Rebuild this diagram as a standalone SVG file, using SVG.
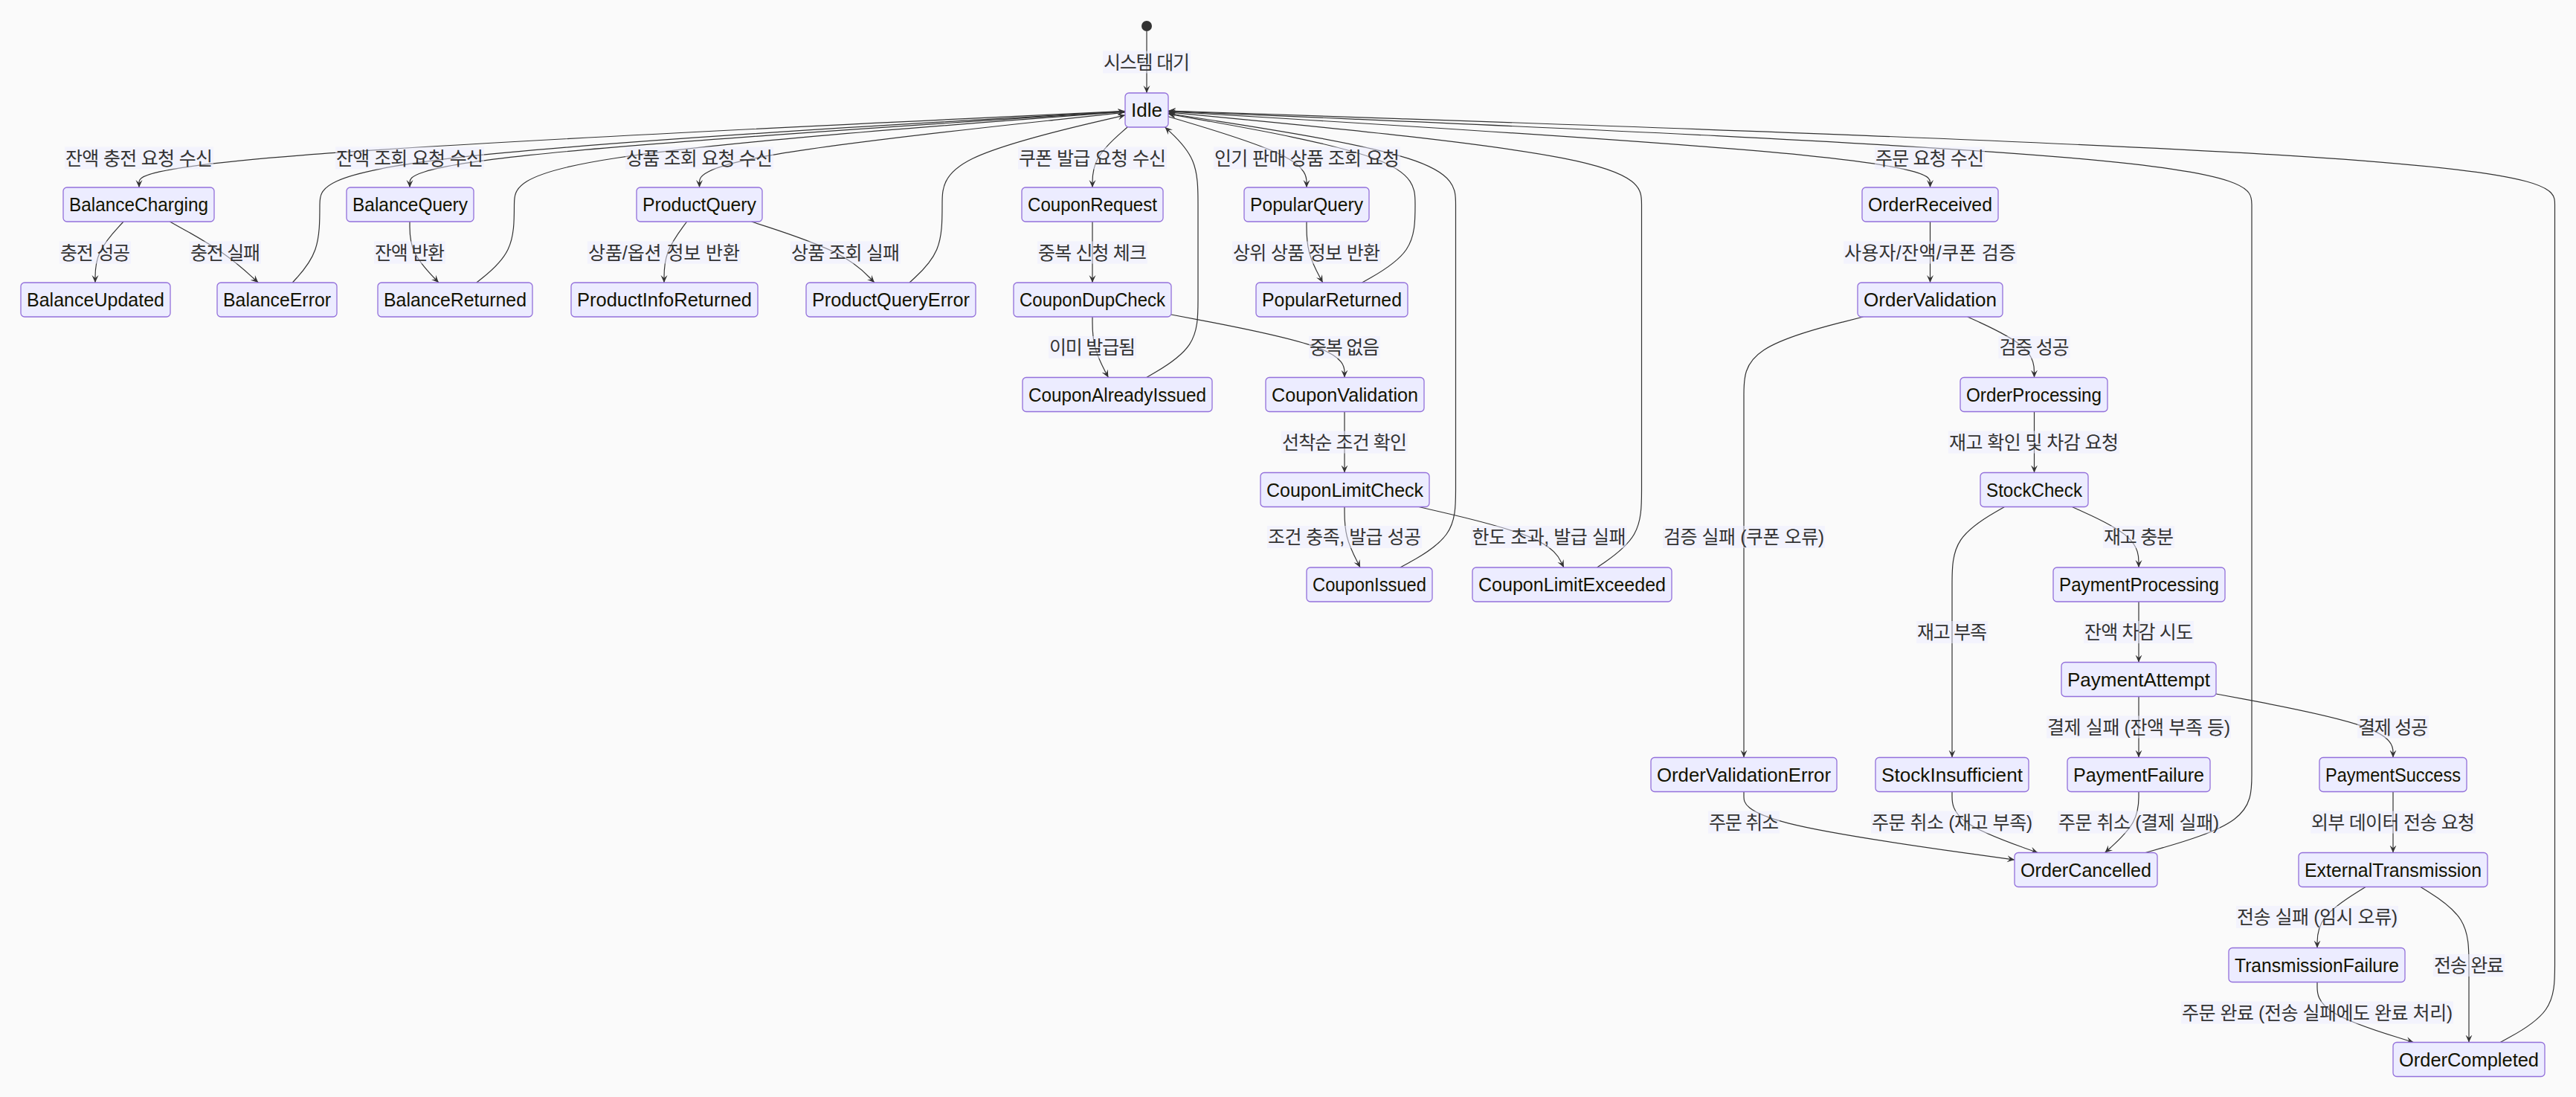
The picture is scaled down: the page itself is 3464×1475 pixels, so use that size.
<svg xmlns="http://www.w3.org/2000/svg" width="3464" height="1475" viewBox="0 0 3464 1475">
<style>
text{font-family:"Liberation Sans","Noto Sans CJK KR",sans-serif;font-size:25px;text-anchor:middle;dominant-baseline:central}
.node rect{fill:#ECECFF;stroke:#9370DB;stroke-width:1.3}
.node text{fill:#131300}
#edges path{fill:none;stroke:#333;stroke-width:1.2;marker-end:url(#barb)}
.lbl rect{fill:#ECECFF;opacity:0.5}
.lbl text{fill:#333}
</style>
<defs>
<marker id="barb" viewBox="0 0 10 10" refX="10" refY="5" markerWidth="10" markerHeight="10" markerUnits="userSpaceOnUse" orient="auto">
<path d="M10,5 L0,9.5 L4,5 L0,0.5 Z" fill="#333"/>
</marker>
</defs>
<rect width="3464" height="1475" fill="#FAFAFA"/>
<g id="edges">
<path d="M1542,42 L1542,125"/>
<path d="M1513,149.4 L1292,159.9 C1071,170.4 629,191.5 408,208.6 C187,225.7 187,238.8 187,245.4 L187,252"/>
<path d="M1513,149.9 L1352.7,160.3 C1192.3,170.8 871.7,191.6 711.3,208.7 C551,225.7 551,238.8 551,245.4 L551,252"/>
<path d="M1513,151.1 L1417.6,161.3 C1322.2,171.6 1131.3,192 1035.9,208.9 C940.5,225.7 940.5,238.8 940.5,245.4 L940.5,252"/>
<path d="M1516,171 L1508.2,177.9 C1500.3,184.8 1484.7,198.7 1476.8,212.2 C1469,225.7 1469,238.8 1469,245.4 L1469,252"/>
<path d="M1571,156.7 L1602,166 C1633,175.3 1695,193.9 1726,209.8 C1757,225.7 1757,238.8 1757,245.4 L1757,252"/>
<path d="M1571,149.8 L1741.75,160.25 C1912.5,170.7 2254,191.6 2424.75,208.6 C2595.5,225.7 2595.5,238.8 2595.5,245.4 L2595.5,252"/>
<path d="M166,298 L159.7,304.9 C153.3,311.8 140.7,325.7 134.3,339.3 C128,353 128,366.5 128,373.2 L128,380"/>
<path d="M228.4,298 L240.8,304.9 C253.3,311.8 278.1,325.7 298,339.3 C317.8,353 332.5,366.5 339.9,373.25 L347.3,380"/>
<path d="M551,298 L551,304.9 C551,311.8 551,325.7 557.5,339.3 C564,353 577,366.5 583.4,373.25 L589.9,380"/>
<path d="M923.6,298 L918.5,304.9 C913.4,311.8 903.2,325.7 898.1,339.3 C893,353 893,366.5 893,373.25 L893,380"/>
<path d="M1010.5,298 L1031.6,304.9 C1052.7,311.8 1094.8,325.7 1122.4,339.3 C1150,353 1163,366.5 1169.4,373.25 L1175.9,380"/>
<path d="M1469,298 L1469,380"/>
<path d="M1757,298 L1757,304.9 C1757,311.8 1757,325.7 1760.6,339.3 C1764.2,353 1771.5,366.5 1775.1,373.25 L1778.7,380"/>
<path d="M2595.5,298 L2595.5,380"/>
<path d="M1469,426 L1469,432.8 C1469,439.7 1469,453.3 1472.6,466.9 C1476.1,480.5 1483.3,494 1486.8,500.75 L1490.4,507.5"/>
<path d="M1575,423 L1613.8,430.3 C1652.7,437.7 1730.3,452.3 1769.2,466.4 C1808,480.5 1808,494 1808,500.75 L1808,507.5"/>
<path d="M2645.8,426 L2660.75,432.8 C2675.7,439.7 2705.6,453.3 2720.5,466.9 C2735.5,480.5 2735.5,494 2735.5,500.75 L2735.5,507.5"/>
<path d="M2505.5,426 L2478.75,432.8 C2452,439.7 2398.5,453.3 2371.75,470.75 C2345,488.2 2345,509.3 2345,530.5 L2345,1018.5"/>
<path d="M1808,553.5 L1808,635.5"/>
<path d="M2735.5,553.5 L2735.5,635.5"/>
<path d="M1541.8,507.5 L1553.3,500.75 C1564.9,494 1587.9,480.5 1599.5,463.1 C1611,445.7 1611,424.3 1611,403 L1611,275.3 C1611,254.2 1611,233.3 1603.6,216 C1596.2,198.7 1581.4,184.8 1574,177.9 L1566.6,171"/>
<path d="M393.3,380 L399.4,373.25 C405.5,366.5 417.8,353 423.9,335.5 C430,318 430,296.5 430,275.3 C430,254.2 430,233.3 610.5,212.45 C791,191.6 1152,170.6 1332.5,160.2 L1513,149.7"/>
<path d="M640.8,380 L649.25,373.25 C657.7,366.5 674.6,353 683,335.5 C691.5,318 691.5,296.5 691.5,275.3 C691.5,254.2 691.5,233.3 828.4,212.5 C965.3,191.7 1239.2,171 1376.1,160.6 L1513,150.2"/>
<path d="M1223,380 L1230.3,373.25 C1237.7,366.5 1252.3,353 1259.7,335.5 C1267,318 1267,296.5 1267,275.3 C1267,254.2 1267,233.3 1307.8,213.3 C1349,193.3 1431,174 1472,164.4 L1513,154.8"/>
<path d="M1831.6,380 L1843.5,373.25 C1855.4,366.5 1879.2,353 1891.1,335.5 C1903,318 1903,296.5 1903,275.3 C1903,254.2 1903,233.3 1847.7,213 C1792.3,192.7 1681.7,173 1626.3,163.1 L1571,153.2"/>
<path d="M1882.9,763 L1895.3,756.2 C1907.8,749.3 1932.6,735.7 1945.1,718.25 C1957.5,700.8 1957.5,679.7 1957.5,658.6 L1957.5,275.3 C1957.5,254.2 1957.5,233.3 1893.1,212.9 C1828.7,192.5 1699.8,172.5 1635.4,162.5 L1571,152.5"/>
<path d="M2147.6,763 L2157.6,756.2 C2167.6,749.3 2187.5,735.7 2197.5,718.25 C2207.5,700.8 2207.5,679.7 2207.5,658.6 L2207.5,275.3 C2207.5,254.2 2207.5,233.3 2101.4,212.6 C1995.3,191.9 1783.2,171.4 1677.1,161.1 L1571,150.8"/>
<path d="M1808,681.5 L1808,688.25 C1808,695 1808,708.5 1811.5,722.1 C1815,735.7 1822.1,749.3 1825.6,756.2 L1829.1,763"/>
<path d="M1907.9,681.5 L1937.1,688.25 C1966.3,695 2024.6,708.5 2057.1,722.1 C2089.6,735.7 2096.3,749.3 2099.6,756.2 L2102.9,763"/>
<path d="M2786.4,681.5 L2801.3,688.25 C2816.3,695 2846.1,708.5 2861.1,722.1 C2876,735.7 2876,749.3 2876,756.2 L2876,763"/>
<path d="M2695.5,681.5 L2683.75,688.25 C2672,695 2648.5,708.5 2636.75,725.9 C2625,743.3 2625,764.7 2625,786 L2625,1018.5"/>
<path d="M2876,809 L2876,890.5"/>
<path d="M2876,936.5 L2876,1018.5"/>
<path d="M2980,933 L3019.7,940.4 C3059.3,947.8 3138.7,962.7 3178.3,976.9 C3218,991.2 3218,1004.8 3218,1011.7 L3218,1018.5"/>
<path d="M2345,1064.5 L2345,1071.3 C2345,1078.2 2345,1091.8 2405.7,1107.1 C2466.3,1122.4 2587.7,1139.2 2648.3,1147.7 L2709,1156.1"/>
<path d="M2625,1064.5 L2625,1071.3 C2625,1078.2 2625,1091.8 2644.2,1105.5 C2663.4,1119.2 2701.9,1132.8 2721.1,1139.7 L2740.3,1146.5"/>
<path d="M2876,1064.5 L2876,1071.3 C2876,1078.2 2876,1091.8 2868.4,1105.5 C2860.8,1119.2 2845.7,1132.8 2838.1,1139.7 L2830.5,1146.5"/>
<path d="M3218,1064.5 L3218,1146.5"/>
<path d="M2885.1,1146.5 L2908.9,1139.7 C2932.7,1132.8 2980.4,1119.2 3004.2,1101.7 C3028,1084.2 3028,1062.8 3028,1041.5 L3028,275.3 C3028,254.2 3028,233.3 2785.2,212.4 C2542.3,191.4 2056.7,170.4 1813.8,159.8 L1571,149.3"/>
<path d="M3181.1,1192.5 L3170.25,1199.25 C3159.4,1206 3137.7,1219.5 3126.85,1233.2 C3116,1246.8 3116,1260.7 3116,1267.6 L3116,1274.5"/>
<path d="M3254.9,1192.5 L3265.75,1199.25 C3276.6,1206 3298.3,1219.5 3309.15,1237 C3320,1254.5 3320,1276 3320,1297.5 L3320,1401.5"/>
<path d="M3116,1320.5 L3116,1327.3 C3116,1334.2 3116,1347.8 3137.6,1361.3 C3159.2,1374.8 3202.3,1388.2 3223.9,1394.8 L3245.5,1401.5"/>
<path d="M3362.2,1401.5 L3374.4,1394.8 C3386.6,1388.2 3411.1,1374.8 3423.3,1357.5 C3435.5,1340.2 3435.5,1318.8 3435.5,1297.5 L3435.5,275.3 C3435.5,254.2 3435.5,233.3 3124.75,212.3 C2814,191.3 2192.5,170.2 1881.75,159.6 L1571,149"/>
</g>
<g id="edge-labels">
<g class="lbl"><rect x="1483" y="68.5" width="118" height="30"/><text x="1542" y="83.5" textLength="116" lengthAdjust="spacing">시스템 대기</text></g>
<g class="lbl"><rect x="87" y="197.5" width="200" height="30"/><text x="187" y="212.5" textLength="198" lengthAdjust="spacing">잔액 충전 요청 수신</text></g>
<g class="lbl"><rect x="451" y="197.5" width="200" height="30"/><text x="551" y="212.5" textLength="198" lengthAdjust="spacing">잔액 조회 요청 수신</text></g>
<g class="lbl"><rect x="841" y="197.5" width="199" height="30"/><text x="940.5" y="212.5" textLength="197" lengthAdjust="spacing">상품 조회 요청 수신</text></g>
<g class="lbl"><rect x="1369" y="197.5" width="200" height="30"/><text x="1469" y="212.5" textLength="198" lengthAdjust="spacing">쿠폰 발급 요청 수신</text></g>
<g class="lbl"><rect x="1632" y="197.5" width="251" height="30"/><text x="1757.5" y="212.5" textLength="249" lengthAdjust="spacing">인기 판매 상품 조회 요청</text></g>
<g class="lbl"><rect x="2521" y="197.5" width="148" height="30"/><text x="2595" y="212.5" textLength="146" lengthAdjust="spacing">주문 요청 수신</text></g>
<g class="lbl"><rect x="80" y="324.5" width="96" height="30"/><text x="128" y="339.5" textLength="94" lengthAdjust="spacing">충전 성공</text></g>
<g class="lbl"><rect x="255" y="324.5" width="96" height="30"/><text x="303" y="339.5" textLength="94" lengthAdjust="spacing">충전 실패</text></g>
<g class="lbl"><rect x="503" y="324.5" width="96" height="30"/><text x="551" y="339.5" textLength="94" lengthAdjust="spacing">잔액 반환</text></g>
<g class="lbl"><rect x="790" y="324.5" width="206" height="30"/><text x="893" y="339.5" textLength="204" lengthAdjust="spacing">상품/옵션 정보 반환</text></g>
<g class="lbl"><rect x="1063" y="324.5" width="148" height="30"/><text x="1137" y="339.5" textLength="146" lengthAdjust="spacing">상품 조회 실패</text></g>
<g class="lbl"><rect x="1395" y="324.5" width="148" height="30"/><text x="1469" y="339.5" textLength="146" lengthAdjust="spacing">중복 신청 체크</text></g>
<g class="lbl"><rect x="1657" y="324.5" width="200" height="30"/><text x="1757" y="339.5" textLength="198" lengthAdjust="spacing">상위 상품 정보 반환</text></g>
<g class="lbl"><rect x="2479" y="324.5" width="233" height="30"/><text x="2595.5" y="339.5" textLength="231" lengthAdjust="spacing">사용자/잔액/쿠폰 검증</text></g>
<g class="lbl"><rect x="1410" y="452" width="118" height="30"/><text x="1469" y="467" textLength="116" lengthAdjust="spacing">이미 발급됨</text></g>
<g class="lbl"><rect x="1760" y="452" width="96" height="30"/><text x="1808" y="467" textLength="94" lengthAdjust="spacing">중복 없음</text></g>
<g class="lbl"><rect x="2687.5" y="452" width="96" height="30"/><text x="2735.5" y="467" textLength="94" lengthAdjust="spacing">검증 성공</text></g>
<g class="lbl"><rect x="1723" y="579.5" width="170" height="30"/><text x="1808" y="594.5" textLength="168" lengthAdjust="spacing">선착순 조건 확인</text></g>
<g class="lbl"><rect x="2620" y="579.5" width="230" height="30"/><text x="2735" y="594.5" textLength="228" lengthAdjust="spacing">재고 확인 및 차감 요청</text></g>
<g class="lbl"><rect x="1704" y="707" width="208" height="30"/><text x="1808" y="722" textLength="206" lengthAdjust="spacing">조건 충족, 발급 성공</text></g>
<g class="lbl"><rect x="1978.5" y="707" width="209" height="30"/><text x="2083" y="722" textLength="207" lengthAdjust="spacing">한도 초과, 발급 실패</text></g>
<g class="lbl"><rect x="2236" y="707" width="218" height="30"/><text x="2345" y="722" textLength="216" lengthAdjust="spacing">검증 실패 (쿠폰 오류)</text></g>
<g class="lbl"><rect x="2828" y="707" width="96" height="30"/><text x="2876" y="722" textLength="94" lengthAdjust="spacing">재고 충분</text></g>
<g class="lbl"><rect x="2577" y="835" width="96" height="30"/><text x="2625" y="850" textLength="94" lengthAdjust="spacing">재고 부족</text></g>
<g class="lbl"><rect x="2802" y="835" width="148" height="30"/><text x="2876" y="850" textLength="146" lengthAdjust="spacing">잔액 차감 시도</text></g>
<g class="lbl"><rect x="2752" y="962.5" width="248" height="30"/><text x="2876" y="977.5" textLength="246" lengthAdjust="spacing">결제 실패 (잔액 부족 등)</text></g>
<g class="lbl"><rect x="3170" y="962.5" width="96" height="30"/><text x="3218" y="977.5" textLength="94" lengthAdjust="spacing">결제 성공</text></g>
<g class="lbl"><rect x="2297" y="1090.5" width="96" height="30"/><text x="2345" y="1105.5" textLength="94" lengthAdjust="spacing">주문 취소</text></g>
<g class="lbl"><rect x="2516" y="1090.5" width="218" height="30"/><text x="2625" y="1105.5" textLength="216" lengthAdjust="spacing">주문 취소 (재고 부족)</text></g>
<g class="lbl"><rect x="2767" y="1090.5" width="218" height="30"/><text x="2876" y="1105.5" textLength="216" lengthAdjust="spacing">주문 취소 (결제 실패)</text></g>
<g class="lbl"><rect x="3107" y="1090.5" width="222" height="30"/><text x="3218" y="1105.5" textLength="220" lengthAdjust="spacing">외부 데이터 전송 요청</text></g>
<g class="lbl"><rect x="3007" y="1218" width="218" height="30"/><text x="3116" y="1233" textLength="216" lengthAdjust="spacing">전송 실패 (임시 오류)</text></g>
<g class="lbl"><rect x="3272" y="1283" width="96" height="30"/><text x="3320" y="1298" textLength="94" lengthAdjust="spacing">전송 완료</text></g>
<g class="lbl"><rect x="2933" y="1346.5" width="366" height="30"/><text x="3116" y="1361.5" textLength="364" lengthAdjust="spacing">주문 완료 (전송 실패에도 완료 처리)</text></g>
</g>
<g id="start"><circle cx="1542" cy="35" r="7" fill="#333"/></g>
<g id="Idle" class="node"><rect x="1513" y="125" width="58" height="46" rx="5"/><text x="1542" y="148" textLength="42" lengthAdjust="spacingAndGlyphs">Idle</text></g>
<g id="BalanceCharging" class="node"><rect x="85" y="252" width="203" height="46" rx="5"/><text x="186.5" y="275" textLength="187" lengthAdjust="spacingAndGlyphs">BalanceCharging</text></g>
<g id="BalanceQuery" class="node"><rect x="466" y="252" width="171" height="46" rx="5"/><text x="551.5" y="275" textLength="155" lengthAdjust="spacingAndGlyphs">BalanceQuery</text></g>
<g id="ProductQuery" class="node"><rect x="856" y="252" width="169" height="46" rx="5"/><text x="940.5" y="275" textLength="153" lengthAdjust="spacingAndGlyphs">ProductQuery</text></g>
<g id="CouponRequest" class="node"><rect x="1374" y="252" width="190" height="46" rx="5"/><text x="1469" y="275" textLength="174" lengthAdjust="spacingAndGlyphs">CouponRequest</text></g>
<g id="PopularQuery" class="node"><rect x="1673" y="252" width="168" height="46" rx="5"/><text x="1757" y="275" textLength="152" lengthAdjust="spacingAndGlyphs">PopularQuery</text></g>
<g id="OrderReceived" class="node"><rect x="2504" y="252" width="183" height="46" rx="5"/><text x="2595.5" y="275" textLength="167" lengthAdjust="spacingAndGlyphs">OrderReceived</text></g>
<g id="BalanceUpdated" class="node"><rect x="28" y="380" width="201" height="46" rx="5"/><text x="128.5" y="403" textLength="185" lengthAdjust="spacingAndGlyphs">BalanceUpdated</text></g>
<g id="BalanceError" class="node"><rect x="292" y="380" width="161" height="46" rx="5"/><text x="372.5" y="403" textLength="145" lengthAdjust="spacingAndGlyphs">BalanceError</text></g>
<g id="BalanceReturned" class="node"><rect x="508" y="380" width="208" height="46" rx="5"/><text x="612" y="403" textLength="192" lengthAdjust="spacingAndGlyphs">BalanceReturned</text></g>
<g id="ProductInfoReturned" class="node"><rect x="768" y="380" width="251" height="46" rx="5"/><text x="893.5" y="403" textLength="235" lengthAdjust="spacingAndGlyphs">ProductInfoReturned</text></g>
<g id="ProductQueryError" class="node"><rect x="1084" y="380" width="228" height="46" rx="5"/><text x="1198" y="403" textLength="212" lengthAdjust="spacingAndGlyphs">ProductQueryError</text></g>
<g id="CouponDupCheck" class="node"><rect x="1363" y="380" width="212" height="46" rx="5"/><text x="1469" y="403" textLength="196" lengthAdjust="spacingAndGlyphs">CouponDupCheck</text></g>
<g id="PopularReturned" class="node"><rect x="1689" y="380" width="204" height="46" rx="5"/><text x="1791" y="403" textLength="188" lengthAdjust="spacingAndGlyphs">PopularReturned</text></g>
<g id="OrderValidation" class="node"><rect x="2498" y="380" width="195" height="46" rx="5"/><text x="2595.5" y="403" textLength="179" lengthAdjust="spacingAndGlyphs">OrderValidation</text></g>
<g id="CouponAlreadyIssued" class="node"><rect x="1375" y="507.5" width="255" height="46" rx="5"/><text x="1502.5" y="530.5" textLength="239" lengthAdjust="spacingAndGlyphs">CouponAlreadyIssued</text></g>
<g id="CouponValidation" class="node"><rect x="1702" y="507.5" width="213" height="46" rx="5"/><text x="1808.5" y="530.5" textLength="197" lengthAdjust="spacingAndGlyphs">CouponValidation</text></g>
<g id="OrderProcessing" class="node"><rect x="2636" y="507.5" width="198" height="46" rx="5"/><text x="2735" y="530.5" textLength="182" lengthAdjust="spacingAndGlyphs">OrderProcessing</text></g>
<g id="CouponLimitCheck" class="node"><rect x="1695" y="635.5" width="227" height="46" rx="5"/><text x="1808.5" y="658.5" textLength="211" lengthAdjust="spacingAndGlyphs">CouponLimitCheck</text></g>
<g id="StockCheck" class="node"><rect x="2663" y="635.5" width="145" height="46" rx="5"/><text x="2735.5" y="658.5" textLength="129" lengthAdjust="spacingAndGlyphs">StockCheck</text></g>
<g id="CouponIssued" class="node"><rect x="1757" y="763" width="169" height="46" rx="5"/><text x="1841.5" y="786" textLength="153" lengthAdjust="spacingAndGlyphs">CouponIssued</text></g>
<g id="CouponLimitExceeded" class="node"><rect x="1980" y="763" width="268" height="46" rx="5"/><text x="2114" y="786" textLength="252" lengthAdjust="spacingAndGlyphs">CouponLimitExceeded</text></g>
<g id="PaymentProcessing" class="node"><rect x="2761" y="763" width="231" height="46" rx="5"/><text x="2876.5" y="786" textLength="215" lengthAdjust="spacingAndGlyphs">PaymentProcessing</text></g>
<g id="PaymentAttempt" class="node"><rect x="2772" y="890.5" width="208" height="46" rx="5"/><text x="2876" y="913.5" textLength="192" lengthAdjust="spacingAndGlyphs">PaymentAttempt</text></g>
<g id="OrderValidationError" class="node"><rect x="2220" y="1018.5" width="250" height="46" rx="5"/><text x="2345" y="1041.5" textLength="234" lengthAdjust="spacingAndGlyphs">OrderValidationError</text></g>
<g id="StockInsufficient" class="node"><rect x="2522" y="1018.5" width="206" height="46" rx="5"/><text x="2625" y="1041.5" textLength="190" lengthAdjust="spacingAndGlyphs">StockInsufficient</text></g>
<g id="PaymentFailure" class="node"><rect x="2780" y="1018.5" width="192" height="46" rx="5"/><text x="2876" y="1041.5" textLength="176" lengthAdjust="spacingAndGlyphs">PaymentFailure</text></g>
<g id="PaymentSuccess" class="node"><rect x="3119" y="1018.5" width="198" height="46" rx="5"/><text x="3218" y="1041.5" textLength="182" lengthAdjust="spacingAndGlyphs">PaymentSuccess</text></g>
<g id="OrderCancelled" class="node"><rect x="2709" y="1146.5" width="192" height="46" rx="5"/><text x="2805" y="1169.5" textLength="176" lengthAdjust="spacingAndGlyphs">OrderCancelled</text></g>
<g id="ExternalTransmission" class="node"><rect x="3091" y="1146.5" width="254" height="46" rx="5"/><text x="3218" y="1169.5" textLength="238" lengthAdjust="spacingAndGlyphs">ExternalTransmission</text></g>
<g id="TransmissionFailure" class="node"><rect x="2997" y="1274.5" width="237" height="46" rx="5"/><text x="3115.5" y="1297.5" textLength="221" lengthAdjust="spacingAndGlyphs">TransmissionFailure</text></g>
<g id="OrderCompleted" class="node"><rect x="3218" y="1401.5" width="204" height="46" rx="5"/><text x="3320" y="1424.5" textLength="188" lengthAdjust="spacingAndGlyphs">OrderCompleted</text></g>
</svg>
